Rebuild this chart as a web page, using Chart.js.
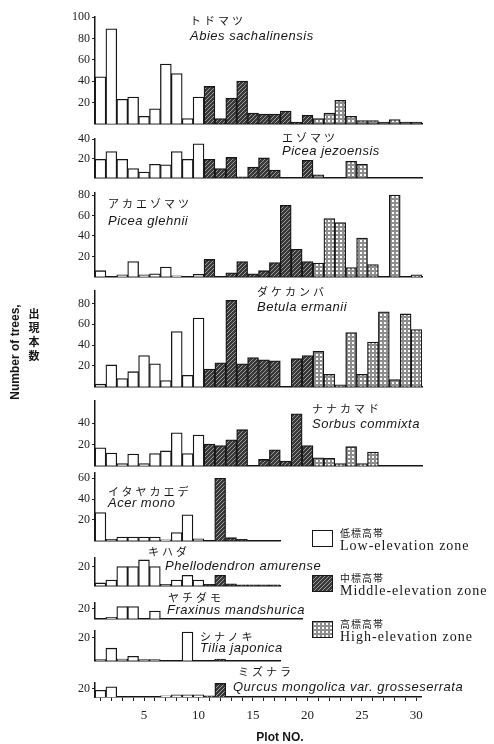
<!DOCTYPE html>
<html><head><meta charset="utf-8">
<script src="https://cdn.jsdelivr.net/npm/chart.js@4.4.1/dist/chart.umd.min.js"></script>
<style>
html,body{margin:0;padding:0;background:#fff;}
#wrap{position:relative;width:494px;height:744px;overflow:hidden;background:#fff;}
#wrap canvas{position:absolute;}
.t{position:absolute;white-space:nowrap;color:#161616;line-height:1;}
.jp{font-family:"Noto Sans CJK JP";font-size:11px;letter-spacing:3px;}
.la{font-family:"Liberation Sans",Arial,sans-serif;font-style:italic;font-size:13px;letter-spacing:0.5px;}
.lgj{font-family:"Noto Sans CJK JP";font-size:10px;letter-spacing:1px;}
.lge{font-family:"Liberation Serif","Times New Roman",serif;font-size:14px;letter-spacing:1px;}
.box{position:absolute;border:1.5px solid #161616;box-sizing:border-box;}
</style></head><body><div id="wrap"></div>
<script>
// ---- data ----
const plots = ['1','2','3','4','5','6','7','8','9','10','11','12','13','14','15','16','17','18','19','20','21','22','23','24','25','26','27','28','29','30'];
const zoneOfPlot = ['low','low','low','low','low','low','low','low','low','low',
                    'mid','mid','mid','mid','mid','mid','mid','mid','mid','mid',
                    'high','high','high','high','high','high','high','high','high','high'];
const xTickLabels = ['5','10','15','20','25','30'];

const abies     = [44,89,23,25,7,14,56,47,5,25, 35,5,24,40,10,9,9,12,1.5,8, 5,10,22,7,3,3,1.5,4,1.5,1.5];
const piceaJez  = [19,27,19,9.5,6,14,13.5,27,19,35, 19,9.5,21,1,11,20.5,8,0,0,18, 3,0,0,17,14,0,0,0,0,0];
const piceaGle  = [6,0,2,15,2,3,9.5,1,0,2.5, 17,0,4,15,3,6,14,70,27,15, 13.5,57,53,9,38,12,0,80,0,2];
const betula    = [2.5,21,8,14.5,30,22,6,53,11,66, 17,23,83,22,28,26,25,0,27,30, 34,12,2,52,12,43,72,7,70,55];
const sorbus    = [17,12,2,11,2,11.5,14,31,11.5,29, 20.5,19,24.5,34,0,6,15,4.5,49,19, 7.5,7,2,18,2,13,0,0,0,0];
const acer      = [27,1.5,3.5,3.5,3.5,3.5,1,8,25,2, 0,60,3,1.5,0,0,0,0,0,0, 0,0,0,0,0,0,0,0,0,0];
const phello    = [3,6,20,20,27,20,1.5,6,11,6, 1.5,11,2,1,1,1,1,0,0,0, 0,0,0,0,0,0,0,0,0,0];
const fraxinus  = [0,3,24,24,0,15,0,0,0,0, 0,0,0,0,0,0,0,0,0,0, 0,0,0,0,0,0,0,0,0,0];
const tilia     = [1,11,1.5,4,1,1,0,0,25,0, 0,1.5,0,0,0,0,0,0,0,0, 0,0,0,0,0,0,0,0,0,0];
const quercus   = [16,24,0,0,0,0,3,5,5,5, 3,32,0,0,0,0,0,0,0,0, 0,0,0,0,0,0,0,0,0,0];

const series = [abies, piceaJez, piceaGle, betula, sorbus, acer, phello, fraxinus, tilia, quercus];
const namesJp = ['トドマツ','エゾマツ','アカエゾマツ','ダケカンバ','ナナカマド','イタヤカエデ','キハダ','ヤチダモ','シナノキ','ミズナラ'];
const namesLa = ['Abies sachalinensis','Picea jezoensis','Picea glehnii','Betula ermanii','Sorbus commixta','Acer mono','Phellodendron amurense','Fraxinus mandshurica','Tilia japonica','Qurcus mongolica var. grosseserrata'];
const yTicks = [[20,40,60,80,100],[20,40],[20,40,60,80],[20,40,60,80],[20,40],[20,40,60],[20],[20],[20],[20]];
const yMax   = [100,40,82,92,61,65,29,31,26,33];

// ---- layout (pixels) ----
const CAT_W = 10.9, AXIS_X = 95, YAXIS_W = 40;
const layout = [
  {top:17,    base:125,   n:30},
  {top:139,   base:178.5, n:30},
  {top:193,   base:278.3, n:30},
  {top:290.6, base:387.7, n:30},
  {top:400.5, base:466.7, n:30},
  {top:473,   base:541.7, n:17},
  {top:557.7, base:586.7, n:17},
  {top:603,   base:620,   n:19},
  {top:631,   base:661.7, n:17},
  {top:683,   base:696.7, n:30}
];
const labelPos = [
  {jx:190,jy:20, lx:190,ly:35},
  {jx:282,jy:137,lx:282,ly:150},
  {jx:108,jy:203,lx:108,ly:220},
  {jx:257,jy:291,lx:257,ly:306},
  {jx:312,jy:408,lx:312,ly:423},
  {jx:108,jy:491,lx:108,ly:502},
  {jx:148,jy:551,lx:165,ly:565},
  {jx:168,jy:597,lx:167,ly:609},
  {jx:200,jy:636,lx:200,ly:647},
  {jx:238,jy:671,lx:233,ly:686}
];

// ---- pattern tiles ----
function tile(kind){
  const c=document.createElement('canvas'); c.width=4; c.height=4;
  const g=c.getContext('2d');
  if(kind==='mid'){
    g.fillStyle='#383838'; g.fillRect(0,0,4,4);
    g.fillStyle='#9c9c9c';
    for(let k=0;k<4;k++) g.fillRect(k,3-k,1,1);
  } else {
    g.fillStyle='#8e8e8e'; g.fillRect(0,0,4,4);
    g.fillStyle='#ffffff'; g.fillRect(1,1,2,2);
  }
  return c;
}
const tiles = {mid: tile('mid'), high: tile('high')};

const wrap = document.getElementById('wrap');
function addText(cls, txt, x, cy, fs){
  const d=document.createElement('div'); d.className='t '+cls; d.textContent=txt;
  d.style.left=x+'px'; d.style.top=(cy-fs/2)+'px'; wrap.appendChild(d); return d;
}

series.forEach((vals, i) => {
  const L = layout[i];
  const last = i === series.length-1;
  const padTop=10, padBottom= last?0:8, padRight=8;
  const axisH = last?44:0;
  const h = Math.round(padTop + (L.base-L.top) + axisH + padBottom);
  const w = Math.round(YAXIS_W + L.n*CAT_W + padRight);
  const cv=document.createElement('canvas');
  cv.width=w; cv.height=h;
  cv.style.width=w+'px'; cv.style.height=h+'px';
  cv.style.left=(AXIS_X-YAXIS_W)+'px';
  cv.style.top=(Math.round(L.base)-(h-padBottom-axisH))+'px';
  wrap.appendChild(cv);
  const g=cv.getContext('2d');
  const fills={low:'#ffffff', mid:g.createPattern(tiles.mid,'repeat'), high:g.createPattern(tiles.high,'repeat')};
  const labels=plots.slice(0,L.n);
  const data=vals.slice(0,L.n).map(v=> v===0?null:v);
  new Chart(cv,{
    type:'bar',
    data:{labels, datasets:[{
      data,
      backgroundColor: c => fills[zoneOfPlot[c.dataIndex]],
      borderColor:'#161616', borderWidth:1.3,
      barPercentage:1, categoryPercentage:1
    }]},
    options:{
      responsive:false, animation:false,
      layout:{padding:{top:padTop,bottom:padBottom,right:padRight,left:0}},
      plugins:{legend:{display:false},tooltip:{enabled:false}},
      scales:{
        x:{
          type:'category', offset:true,
          afterFit: s=>{ s.height=axisH; },
          grid: last ? {display:true,drawOnChartArea:false,drawTicks:true,tickLength:4,offset:false,color:'#222',lineWidth:1}
                     : {display:false,drawTicks:false},
          border:{display:true,color:'#161616',width:1.6},
          ticks: last ? {display:true,autoSkip:false,maxRotation:0,minRotation:0,padding:7,color:'#222',
                         font:{family:'Liberation Serif',size:13},
                         callback:(v,idx)=> xTickLabels.includes(labels[idx]) ? labels[idx] : ''}
                      : {display:false}
        },
        y:{
          min:0, max:yMax[i], position:'left',
          afterBuildTicks: s=>{ s.ticks = yTicks[i].map(v=>({value:v})); },
          afterFit: s=>{ s.width=YAXIS_W; },
          ticks:{color:'#222',padding:2,autoSkip:false,font:{family:'Liberation Serif',size:12}},
          grid:{display:true,drawOnChartArea:false,drawTicks:true,tickLength:3,color:'#222',lineWidth:1},
          border:{display:true,color:'#161616',width:1.5}
        }
      }
    }
  });
  const P=labelPos[i];
  addText('jp', namesJp[i], P.jx, P.jy, 11);
  addText('la', namesLa[i], P.lx, P.ly, 13);
});

// ---- legend ----
const legend = [
  {zone:'low',  jp:'低標高帯', en:'Low-elevation zone',    y:530},
  {zone:'mid',  jp:'中標高帯', en:'Middle-elevation zone', y:575},
  {zone:'high', jp:'高標高帯', en:'High-elevation zone',   y:621}
];
legend.forEach(l=>{
  const b=document.createElement('div'); b.className='box';
  b.style.left='312px'; b.style.top=l.y+'px'; b.style.width='21px'; b.style.height='17px';
  if(l.zone==='low') b.style.background='#fff';
  else b.style.backgroundImage='url('+tiles[l.zone].toDataURL()+')';
  wrap.appendChild(b);
  addText('lgj', l.jp, 340, l.y+3, 10);
  addText('lge', l.en, 340, l.y+16, 14);
});

// ---- axis titles ----
const yt=document.createElement('div'); yt.className='t';
yt.textContent='Number of trees,';
yt.style.cssText+='font-family:"Liberation Sans",Arial,sans-serif;font-weight:bold;font-size:12px;left:15px;top:352px;transform:translate(-50%,-50%) rotate(-90deg);';
wrap.appendChild(yt);
const yj=document.createElement('div'); yj.className='t';
yj.textContent='出現本数';
yj.style.cssText+='font-family:"Noto Sans CJK JP";font-weight:bold;font-size:11px;writing-mode:vertical-rl;letter-spacing:3px;left:28px;top:308px;';
wrap.appendChild(yj);
const xt=document.createElement('div'); xt.className='t';
xt.textContent='Plot NO.';
xt.style.cssText+='font-family:"Liberation Sans",Arial,sans-serif;font-weight:bold;font-size:12px;left:280px;top:737px;transform:translate(-50%,-50%);';
wrap.appendChild(xt);
</script>
</body></html>
